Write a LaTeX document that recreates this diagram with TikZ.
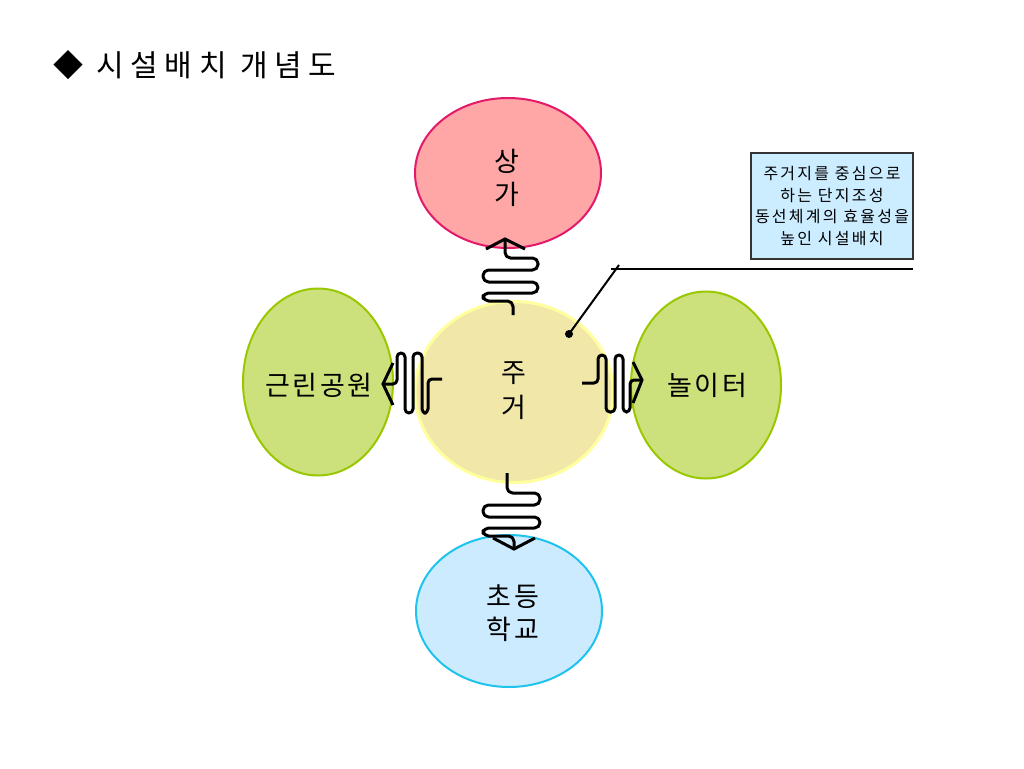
\documentclass[tikz,border=0pt]{standalone}
\usepackage{fontspec}
\setmainfont{Noto Sans CJK KR}
\newfontfamily\titlefont[LetterSpace=22]{Noto Sans CJK KR}
\newfontfamily\lblfont[LetterSpace=10]{Noto Sans CJK KR}
\newfontfamily\notefont[LetterSpace=14]{Noto Sans CJK KR}
\usetikzlibrary{shapes.geometric}
\definecolor{pinkfill}{HTML}{FFA6A6}
\definecolor{pinkline}{HTML}{E31A6A}
\definecolor{yelfill}{HTML}{F0E7A9}
\definecolor{yelline}{HTML}{FFFF9E}
\definecolor{grnfill}{HTML}{CCE17C}
\definecolor{grnline}{HTML}{99C700}
\definecolor{bluefill}{HTML}{CCEBFF}
\definecolor{blueline}{HTML}{1EC3EE}
\definecolor{notefill}{HTML}{CCECFF}
\definecolor{noteline}{HTML}{333333}
\tikzset{
  blob/.style={ellipse, inner sep=0pt, line width=2pt},
  lbl/.style={align=center, inner sep=0pt, font=\lblfont\fontsize{27pt}{33pt}\selectfont},
  spring/.style={line width=3pt, line join=round, draw=black},
  headline/.style={line width=3pt, line join=miter, draw=black},
  callout/.style={line width=2pt, draw=black},
}
\begin{document}
\begin{tikzpicture}[x={(1pt,0)},y={(0,-1pt)}]
\useasboundingbox (0,0) rectangle (1024,768);
\fill[white] (0,0) rectangle (1024,768);

% title
\node[anchor=base west, inner sep=0pt, font=\titlefont\fontsize{30pt}{34pt}\selectfont] (title) at (53,77) {◆ 시설배치 개념도};

% ellipses
\node[blob, fill=pinkfill, draw=pinkline, minimum width=186pt, minimum height=150pt] (sang) at (508,173) {};
\node[blob, fill=yelfill, draw=yelline, line width=3pt, minimum width=198pt, minimum height=181pt] (jugeo) at (514,392) {};
\node[blob, fill=grnfill, draw=grnline, minimum width=150pt, minimum height=187pt] (park) at (318,382) {};
\node[blob, fill=grnfill, draw=grnline, minimum width=150pt, minimum height=187pt] (play) at (706,385) {};
\node[blob, fill=bluefill, draw=blueline, minimum width=186pt, minimum height=152pt] (school) at (509,611) {};

% labels
\node[lbl] (sangT) at (507,178) {상\\가};
\node[lbl, font=\lblfont\fontsize{27pt}{35pt}\selectfont] (jugeoT) at (514,391) {주\\거};
\node[lbl] (parkT) at (319,385) {근린공원};
\node[lbl] (playT) at (707,385) {놀이터};
\node[lbl] (schoolT) at (513,613) {초등\\학교};

% note box
\node[draw=noteline, fill=notefill, line width=1.5pt, minimum width=162pt, minimum height=106pt,
      inner sep=0pt, align=center, font=\notefont\fontsize{16pt}{21.5pt}\selectfont] (note) at (832,206)
      {주거지를 중심으로\\하는 단지조성\\동선체계의 효율성을\\높인 시설배치};

% callout
\coordinate (dotpt) at (569,334);
\coordinate (elbow) at (619,265);
\coordinate (lineL) at (611,269);
\coordinate (lineR) at (913,269);
\fill (dotpt) circle (4pt);
\draw[callout] (dotpt) -- (elbow);
\draw[callout] (lineL) -- (lineR);

% spring connectors
% top: jugeo -> sang
\coordinate (tEnd) at (513,315);
\coordinate (tTip) at (505,239);
\draw[spring, rounded corners=5.5pt] (tEnd) -- (513,301) -- (483,301) -- (483,293) -- (538,293) -- (538,282)
   -- (483,282) -- (483,270) -- (538,270) -- (538,258) -- (505,258) -- (tTip);
\draw[headline] (486,249) -- (tTip) -- (525,249);

% bottom: jugeo -> school
\coordinate (bStart) at (507,473);
\coordinate (bTip) at (514,549);
\draw[spring, rounded corners=5.5pt] (bStart) -- (507,493) -- (540,493) -- (540,505) -- (483,505) -- (483,517)
   -- (540,517) -- (540,528) -- (483,528) -- (483,536) -- (514,536) -- (bTip);
\draw[headline] (493,538) -- (bTip) -- (535,538);

% left: jugeo -> park
\coordinate (lStart) at (442,379);
\coordinate (lTip) at (383,384);
\draw[spring, rounded corners=4pt] (lStart) -- (428,379) -- (428,413) -- (422,413) -- (422,353) -- (413,353)
   -- (413,413) -- (405,413) -- (405,353) -- (397,353) -- (397,384) -- (lTip);
\draw[headline] (393,363) -- (lTip) -- (393,405);

% right: jugeo -> play
\coordinate (rStart) at (582,383);
\coordinate (rTip) at (642,380);
\draw[spring, rounded corners=4pt] (rStart) -- (598,383) -- (598,355) -- (606,355) -- (606,412) -- (615,412)
   -- (615,355) -- (623,355) -- (623,412) -- (630,412) -- (630,380) -- (rTip);
\draw[headline] (633,362) -- (rTip) -- (633,403);
\end{tikzpicture}
\end{document}
